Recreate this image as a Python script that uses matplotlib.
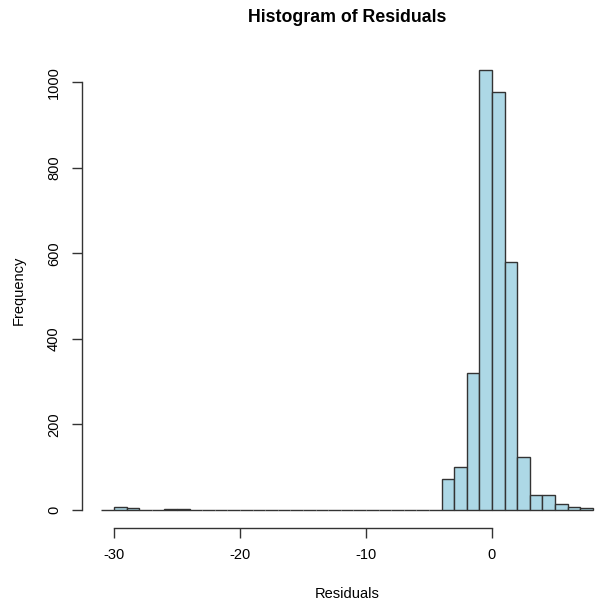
import matplotlib
matplotlib.use("Agg")
import matplotlib.pyplot as plt

plt.rcParams['font.family'] = ['Liberation Sans', 'DejaVu Sans']
plt.rcParams['axes.unicode_minus'] = False

# bins de largeur 1, de -31 a 8
bin_left = list(range(-31, 8))
counts = [1, 6, 5, 0, 0, 3, 3, 0, 0, 0,
          0, 0, 0, 0, 0, 0, 0, 0, 0, 0,
          0, 0, 0, 0, 0, 0, 1, 72, 100, 321,
          1028, 978, 579, 125, 34, 34, 14, 8, 4]
x_ticks = [-30, -20, -10, 0]
y_ticks = [0, 200, 400, 600, 800, 1000]

fig = plt.figure(figsize=(5.96, 6.04), dpi=100)
ax = fig.add_axes([0.1371, 0.1265, 0.8904, 0.7861])

ax.bar(bin_left, counts, width=1, align='edge', color='lightblue',
       edgecolor='#333333', linewidth=1.0)

xmin, xmax = bin_left[0], bin_left[-1] + 1
pad = 0.04 * (xmax - xmin)
ax.set_xlim(xmin - pad, xmax + pad)
ymax = max(counts)
ax.set_ylim(-0.04 * ymax, ymax * 1.04)

for s in ['top', 'right']:
    ax.spines[s].set_visible(False)
ax.spines['left'].set_bounds(0, 1000)
ax.spines['bottom'].set_bounds(-30, 0)
for s in ['left', 'bottom']:
    ax.spines[s].set_color('#333333')
    ax.spines[s].set_linewidth(1.0)

ax.set_xticks(x_ticks)
ax.set_yticks(y_ticks)
ax.set_yticklabels([str(v) for v in y_ticks], rotation=90, va='center')
ax.tick_params(axis='both', length=7, width=1.0, color='#333333',
               labelsize=10.5, pad=8)

ax.set_xlabel("Residuals", fontsize=10.5, labelpad=18)
ax.set_ylabel("Frequency", fontsize=10.5, labelpad=15)
ax.set_title("Histogram of Residuals", fontsize=12.8, fontweight='bold', pad=22)

fig.savefig("out.png", dpi=100)
